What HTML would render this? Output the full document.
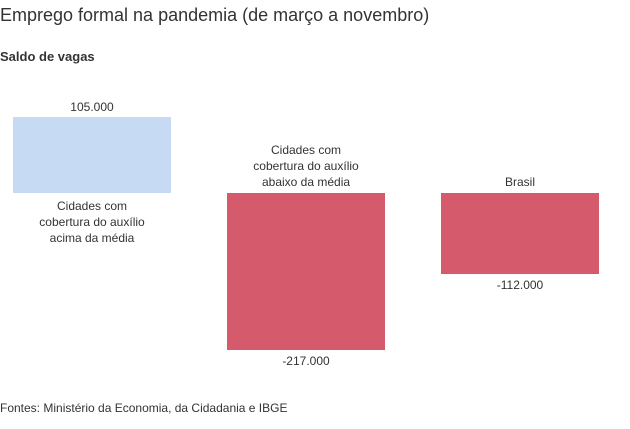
<!DOCTYPE html>
<html><head><meta charset="utf-8"><style>
body{margin:0;width:630px;height:429px;background:#fff;font-family:"Liberation Sans",sans-serif;color:#333;overflow:hidden}
</style></head><body>
<svg width="630" height="429" style="position:absolute;left:0;top:0">
<text x="0" y="21" font-size="18" fill="#333">Emprego formal na pandemia (de março a novembro)</text>
<text x="0" y="61" font-size="13" font-weight="bold" fill="#333">Saldo de vagas</text>
<g id="bars"></g>
<text x="0" y="412" font-size="12" fill="#333">Fontes: Ministério da Economia, da Cidadania e IBGE</text>
</svg>
<script>
const categories=[["Cidades com","cobertura do auxílio","acima da média"],["Cidades com","cobertura do auxílio","abaixo da média"],["Brasil"]];
const values=[105000,-217000,-112000];
const valueLabels=["105.000","-217.000","-112.000"];
const baseY=193, scale=157/217000, x0=13, step=214, bw=158;
const ns="http://www.w3.org/2000/svg";
const g=document.getElementById("bars");
function y(v){return baseY-v*scale;}
values.forEach((v,i)=>{
  const x=x0+i*step;
  const r=document.createElementNS(ns,"rect");
  
  
  r.setAttribute("x",x);r.setAttribute("width",bw);
  r.setAttribute("y",Math.min(y(v),baseY));r.setAttribute("height",Math.abs(y(v)-baseY));
  r.setAttribute("fill",v>=0?"#c6dbf3":"#d45a6c");
  g.appendChild(r);
  const t=document.createElementNS(ns,"text");
  
  
  t.setAttribute("x",x+bw/2);t.setAttribute("text-anchor","middle");t.setAttribute("font-size","12");t.setAttribute("fill","#333");
  t.setAttribute("y",v>=0?y(v)-6:y(v)+15);
  t.textContent=valueLabels[i];g.appendChild(t);
  const lines=categories[i];
  lines.forEach((ln,j)=>{
    const c=document.createElementNS(ns,"text");
    
    
    c.setAttribute("x",x+bw/2);c.setAttribute("text-anchor","middle");c.setAttribute("font-size","12");c.setAttribute("fill","#333");
    const yy=v>=0?baseY+17+j*16:baseY-7-(lines.length-1-j)*16;
    c.setAttribute("y",yy);c.textContent=ln;g.appendChild(c);
  });
});
</script>
</body></html>
